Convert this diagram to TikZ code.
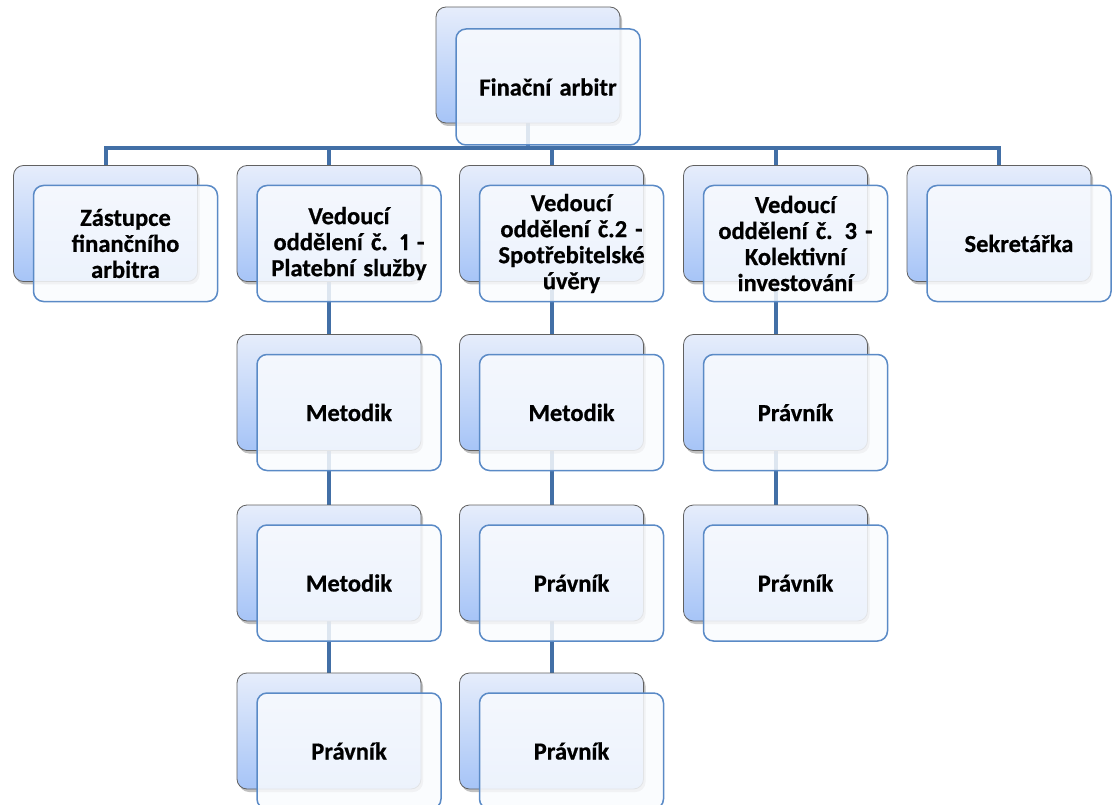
\documentclass[tikz,border=0pt]{standalone}
\usepackage{fontspec}
\setmainfont{Carlito}[WordSpace=0.75, Numbers=Proportional, BoldFeatures={FakeBold=0.6}]
\usetikzlibrary{shadows,backgrounds}
\definecolor{lineblue}{HTML}{426FA6}
\definecolor{bgtop}{HTML}{E6EDFB}
\definecolor{bgbot}{HTML}{A6C4F7}
\definecolor{frontline}{HTML}{5A8AC6}
\definecolor{frontfill}{HTML}{F9FBFE}
\tikzset{
  backbox/.style={draw=black!62, line width=0.8pt, rounded corners=10pt,
    minimum width=184pt, minimum height=116pt, inner sep=0pt,
    top color=bgtop, bottom color=bgbot,
    drop shadow={shadow xshift=2pt, shadow yshift=-3pt, opacity=0.35, fill=black!70}},
  frontbox/.style={draw=frontline, line width=1.5pt, rounded corners=10pt,
    minimum width=184pt, minimum height=116pt, inner sep=0pt,
    fill=frontfill, fill opacity=0.85, text opacity=1, align=center,
    text width=178pt, font=\bfseries\fontsize{24.5}{26}\selectfont},
  conn/.style={draw=lineblue, line width=4pt}
}
\begin{document}
\begin{tikzpicture}[x=1pt,y=-1pt]
\useasboundingbox (0,0) rectangle (1117,805);
% top
\node[backbox] (tb) at (528,65) {};
\node[frontbox] (tf) at (548,87) {Finační arbitr};
% level 1
\node[backbox] (b1) at (105.5,223.5) {};
\node[frontbox] (f1) at (125.5,243.5) {Zástupce\\finančního\\arbitra};
\node[backbox] (b2) at (329,223.5) {};
\node[frontbox] (f2) at (349,243.5) {Vedoucí\\oddělení č. 1 -\\Platební služby};
\node[backbox] (b3) at (551.5,223.5) {};
\node[frontbox] (f3) at (571.5,243.5) {Vedoucí\\oddělení č.2 -\\Spotřebitelské\\úvěry};
\node[backbox] (b4) at (775.5,223.5) {};
\node[frontbox] (f4) at (795.5,243.5) {Vedoucí\\oddělení č. 3 -\\Kolektivní\\investování};
\node[backbox] (b5) at (999,223.5) {};
\node[frontbox] (f5) at (1019,243.5) {Sekretářka};
% column 2
\node[backbox] (c2a) at (329,392.5) {};
\node[frontbox] (d2a) at (349,412.5) {Metodik};
\node[backbox] (c2b) at (329,563) {};
\node[frontbox] (d2b) at (349,583) {Metodik};
\node[backbox] (c2c) at (329,731) {};
\node[frontbox] (d2c) at (349,751) {Právník};
% column 3
\node[backbox] (c3a) at (551.5,392.5) {};
\node[frontbox] (d3a) at (571.5,412.5) {Metodik};
\node[backbox] (c3b) at (551.5,563) {};
\node[frontbox] (d3b) at (571.5,583) {Právník};
\node[backbox] (c3c) at (551.5,731) {};
\node[frontbox] (d3c) at (571.5,751) {Právník};
% column 4
\node[backbox] (c4a) at (775.5,392.5) {};
\node[frontbox] (d4a) at (795.5,412.5) {Právník};
\node[backbox] (c4b) at (775.5,563) {};
\node[frontbox] (d4b) at (795.5,583) {Právník};
% connectors
\begin{pgfonlayer}{background}
\coordinate (bar) at (0,148);
\draw[conn] (tb.center) -- (tb.center |- bar);
\draw[conn, line cap=rect] (b1.center) -- (b1.center |- bar) -- (b5.center |- bar) -- (b5.center);
\draw[conn] (b2.center |- bar) -- (b2.center);
\draw[conn] (b3.center |- bar) -- (b3.center);
\draw[conn] (b4.center |- bar) -- (b4.center);
\draw[conn] (b2.center) -- (c2c.center);
\draw[conn] (b3.center) -- (c3c.center);
\draw[conn] (b4.center) -- (c4b.center);
\end{pgfonlayer}
\end{tikzpicture}
\end{document}
